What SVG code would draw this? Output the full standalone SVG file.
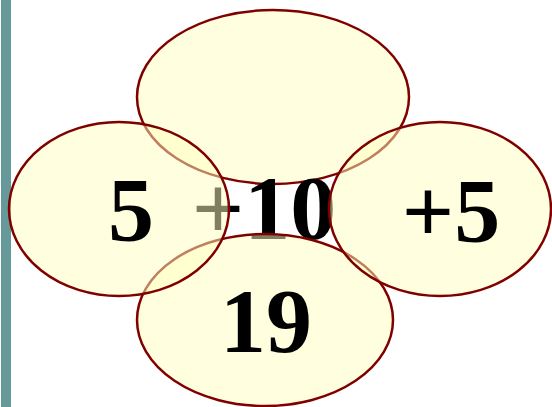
<svg xmlns="http://www.w3.org/2000/svg" width="552" height="407" viewBox="0 0 552 407">
<style>
.e{fill:#ffffc0;fill-opacity:0.5;stroke:#800000;stroke-width:2.5}
.t{font-family:"Liberation Serif","Times New Roman",serif;font-weight:bold;font-size:92px;fill:#000;text-anchor:middle}
</style>
<rect x="0" y="0" width="552" height="407" fill="#ffffff"/>
<rect x="1" y="0" width="10" height="407" fill="#669999"/>
<g id="top"><ellipse class="e" cx="273" cy="97" rx="136" ry="87"/></g>
<g id="plus10"><text class="t" x="264" y="239">+10</text></g>
<g id="bottom"><ellipse class="e" cx="265" cy="320" rx="128" ry="86"/><text class="t" x="266" y="352">19</text></g>
<g id="left"><ellipse class="e" cx="119" cy="209" rx="110" ry="87"/><text class="t" x="131" y="241">5</text></g>
<g id="right"><ellipse class="e" cx="440" cy="209" rx="111" ry="87"/><text class="t" x="451" y="242">+5</text></g>
</svg>
